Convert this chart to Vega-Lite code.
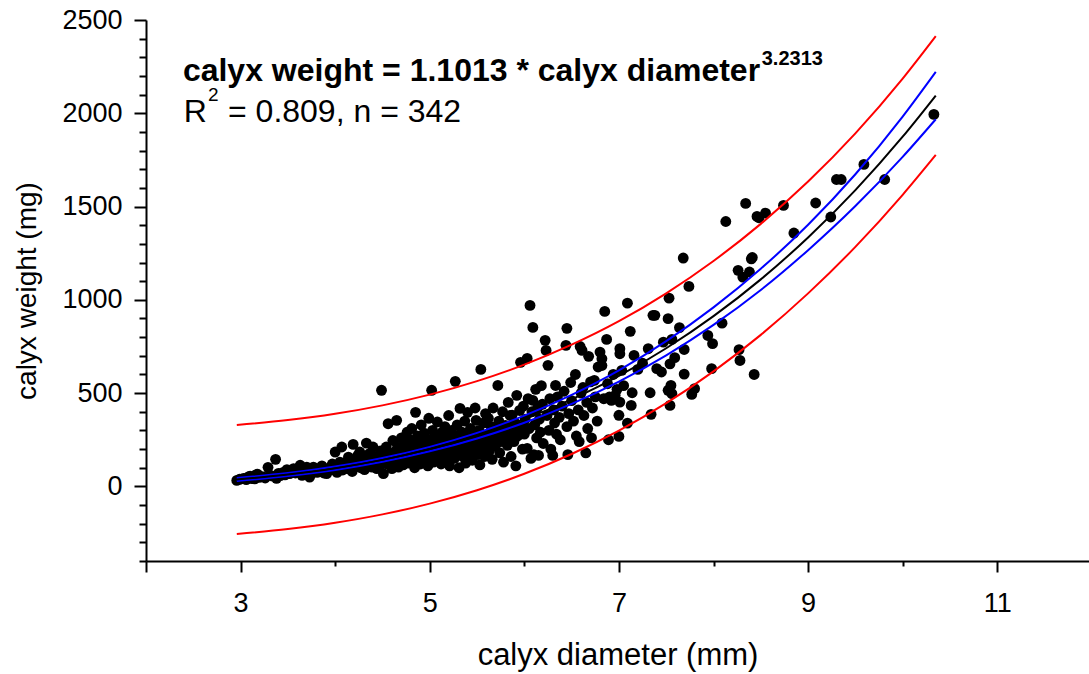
{
"$schema":"https://vega.github.io/schema/vega-lite/v6.json",
"width":943,"height":541,
"autosize":{"type":"none"},
"padding":{"left":146,"top":20,"right":0,"bottom":113},
"background":"white",
"config":{"view":{"stroke":null},"axis":{"labelFont":"Liberation Sans","titleFont":"Liberation Sans","labelColor":"black","titleColor":"black","domainColor":"black","tickColor":"black","domainWidth":2,"tickWidth":2,"grid":false,"titleFontWeight":"normal"}},
"datasets":{
"pts":[
{"d":2.96,"w":32},{"d":2.99,"w":38},{"d":3.03,"w":43},{"d":3.06,"w":36},{"d":3.08,"w":50},{"d":3.1,"w":55},{"d":3.12,"w":42},{"d":3.15,"w":40},{"d":3.16,"w":62},{"d":3.18,"w":65},{"d":3.2,"w":48},{"d":3.23,"w":52},{"d":3.26,"w":45},{"d":3.29,"w":102},{"d":3.31,"w":60},{"d":3.34,"w":55},{"d":3.37,"w":145},{"d":3.38,"w":43},{"d":3.4,"w":70},{"d":3.42,"w":58},{"d":3.45,"w":75},{"d":3.47,"w":62},{"d":3.49,"w":90},
{"d":3.52,"w":68},{"d":3.54,"w":80},{"d":3.56,"w":95},{"d":3.58,"w":72},{"d":3.6,"w":85},{"d":3.63,"w":113},{"d":3.65,"w":59},{"d":3.67,"w":78},{"d":3.7,"w":103},{"d":3.72,"w":88},{"d":3.73,"w":50},{"d":3.75,"w":70},{"d":3.77,"w":103},{"d":3.79,"w":82},{"d":3.81,"w":75},{"d":3.84,"w":95},{"d":3.86,"w":110},{"d":3.88,"w":72},{"d":3.91,"w":68},{"d":3.93,"w":85},{"d":3.95,"w":103},{"d":3.97,"w":120},{"d":3.99,"w":90},
{"d":4.0,"w":184},{"d":4.02,"w":75},{"d":4.03,"w":103},{"d":4.05,"w":130},{"d":4.07,"w":211},{"d":4.08,"w":88},{"d":4.1,"w":115},{"d":4.12,"w":130},{"d":4.13,"w":95},{"d":4.14,"w":157},{"d":4.16,"w":105},{"d":4.18,"w":80},{"d":4.19,"w":225},{"d":4.21,"w":122},{"d":4.22,"w":140},{"d":4.24,"w":166},{"d":4.26,"w":184},{"d":4.27,"w":100},{"d":4.29,"w":150},{"d":4.3,"w":122},{"d":4.31,"w":90},{"d":4.33,"w":232},{"d":4.35,"w":148},{"d":4.36,"w":175},{"d":4.38,"w":120},{"d":4.39,"w":103},{"d":4.4,"w":211},{"d":4.42,"w":160},{"d":4.44,"w":95},{"d":4.45,"w":135},{"d":4.47,"w":103},{"d":4.48,"w":190},{"d":4.49,"w":515},
{"d":4.51,"w":68},{"d":4.52,"w":150},{"d":4.54,"w":211},{"d":4.55,"w":120},{"d":4.56,"w":336},{"d":4.57,"w":175},{"d":4.58,"w":139},{"d":4.6,"w":95},{"d":4.61,"w":246},{"d":4.62,"w":160},{"d":4.63,"w":184},{"d":4.64,"w":125},{"d":4.65,"w":354},{"d":4.66,"w":210},{"d":4.67,"w":103},{"d":4.68,"w":140},{"d":4.7,"w":260},{"d":4.71,"w":180},{"d":4.72,"w":115},{"d":4.73,"w":220},{"d":4.75,"w":150},{"d":4.76,"w":290},{"d":4.77,"w":200},{"d":4.78,"w":125},{"d":4.79,"w":250},{"d":4.8,"w":170},{"d":4.81,"w":310},{"d":4.82,"w":140},{"d":4.83,"w":230},{"d":4.84,"w":100},{"d":4.85,"w":397},{"d":4.86,"w":190},{"d":4.87,"w":270},{"d":4.88,"w":155},{"d":4.89,"w":215},{"d":4.9,"w":120},{"d":4.91,"w":330},{"d":4.92,"w":240},{"d":4.93,"w":175},{"d":4.94,"w":285},{"d":4.95,"w":140},{"d":4.96,"w":205},{"d":4.97,"w":255},{"d":4.98,"w":110},{"d":4.99,"w":365},
{"d":5.0,"w":190},{"d":5.01,"w":240},{"d":5.02,"w":515},{"d":5.02,"w":160},{"d":5.03,"w":300},{"d":5.04,"w":130},{"d":5.05,"w":220},{"d":5.06,"w":270},{"d":5.07,"w":180},{"d":5.08,"w":345},{"d":5.09,"w":150},{"d":5.1,"w":250},{"d":5.11,"w":205},{"d":5.12,"w":120},{"d":5.13,"w":290},{"d":5.14,"w":230},{"d":5.15,"w":170},{"d":5.16,"w":320},{"d":5.17,"w":140},{"d":5.18,"w":260},{"d":5.19,"w":200},{"d":5.2,"w":380},{"d":5.21,"w":110},{"d":5.22,"w":240},{"d":5.23,"w":300},{"d":5.24,"w":175},{"d":5.25,"w":215},{"d":5.26,"w":150},{"d":5.27,"w":563},{"d":5.28,"w":270},{"d":5.29,"w":330},{"d":5.3,"w":190},{"d":5.31,"w":100},{"d":5.32,"w":418},{"d":5.33,"w":240},{"d":5.34,"w":290},{"d":5.35,"w":160},{"d":5.36,"w":210},{"d":5.37,"w":350},{"d":5.38,"w":125},{"d":5.4,"w":397},{"d":5.41,"w":260},{"d":5.42,"w":180},{"d":5.43,"w":310},{"d":5.44,"w":225},{"d":5.45,"w":140},{"d":5.46,"w":280},{"d":5.47,"w":200},{"d":5.48,"w":420},{"d":5.49,"w":354},
{"d":5.5,"w":245},{"d":5.51,"w":170},{"d":5.52,"w":300},{"d":5.53,"w":115},{"d":5.54,"w":627},{"d":5.55,"w":265},{"d":5.56,"w":210},{"d":5.57,"w":340},{"d":5.58,"w":160},{"d":5.59,"w":390},{"d":5.6,"w":230},{"d":5.61,"w":280},{"d":5.62,"w":365},{"d":5.63,"w":190},{"d":5.64,"w":250},{"d":5.65,"w":320},{"d":5.66,"w":145},{"d":5.67,"w":420},{"d":5.68,"w":300},{"d":5.69,"w":215},{"d":5.7,"w":270},{"d":5.72,"w":541},{"d":5.73,"w":350},{"d":5.74,"w":180},{"d":5.75,"w":240},{"d":5.76,"w":310},{"d":5.77,"w":400},{"d":5.78,"w":130},{"d":5.79,"w":285},{"d":5.8,"w":327},{"d":5.82,"w":220},{"d":5.83,"w":450},{"d":5.84,"w":260},{"d":5.85,"w":380},{"d":5.86,"w":160},{"d":5.87,"w":381},{"d":5.88,"w":300},{"d":5.89,"w":240},{"d":5.9,"w":340},{"d":5.91,"w":110},{"d":5.92,"w":488},{"d":5.93,"w":270},{"d":5.95,"w":407},{"d":5.96,"w":665},{"d":5.97,"w":320},{"d":5.98,"w":200},{"d":5.99,"w":430},
{"d":6.0,"w":280},{"d":6.01,"w":360},{"d":6.03,"w":204},{"d":6.03,"w":686},{"d":6.04,"w":470},{"d":6.05,"w":310},{"d":6.06,"w":970},{"d":6.07,"w":150},{"d":6.08,"w":400},{"d":6.09,"w":852},{"d":6.09,"w":461},{"d":6.1,"w":170},{"d":6.11,"w":330},{"d":6.12,"w":520},{"d":6.13,"w":260},{"d":6.14,"w":420},{"d":6.15,"w":166},{"d":6.16,"w":360},{"d":6.17,"w":290},{"d":6.18,"w":540},{"d":6.19,"w":440},{"d":6.2,"w":230},{"d":6.22,"w":783},{"d":6.23,"w":729},{"d":6.24,"w":380},{"d":6.25,"w":649},{"d":6.26,"w":300},{"d":6.27,"w":470},{"d":6.28,"w":200},{"d":6.3,"w":166},{"d":6.31,"w":410},{"d":6.32,"w":340},{"d":6.33,"w":541},{"d":6.34,"w":280},{"d":6.35,"w":480},{"d":6.37,"w":370},{"d":6.38,"w":250},{"d":6.4,"w":430},{"d":6.42,"w":510},{"d":6.44,"w":756},{"d":6.45,"w":847},{"d":6.45,"w":320},{"d":6.46,"w":170},{"d":6.47,"w":390},{"d":6.49,"w":557},
{"d":6.5,"w":460},{"d":6.52,"w":350},{"d":6.54,"w":600},{"d":6.55,"w":270},{"d":6.57,"w":410},{"d":6.58,"w":240},{"d":6.59,"w":750},{"d":6.6,"w":500},{"d":6.61,"w":729},{"d":6.62,"w":530},{"d":6.63,"w":380},{"d":6.65,"w":180},{"d":6.66,"w":450},{"d":6.67,"w":310},{"d":6.68,"w":697},{"d":6.7,"w":560},{"d":6.71,"w":260},{"d":6.72,"w":420},{"d":6.74,"w":568},{"d":6.75,"w":480},{"d":6.77,"w":350},{"d":6.78,"w":640},{"d":6.8,"w":720},{"d":6.82,"w":684},{"d":6.82,"w":648},{"d":6.84,"w":470},{"d":6.85,"w":938},{"d":6.87,"w":788},{"d":6.88,"w":550},{"d":6.89,"w":250},{"d":6.9,"w":479},{"d":6.92,"w":461},{"d":6.94,"w":600},{"d":6.96,"w":488},{"d":6.98,"w":520},
{"d":7.0,"w":268},{"d":7.0,"w":381},{"d":7.01,"w":738},{"d":7.01,"w":711},{"d":7.01,"w":452},{"d":7.03,"w":622},{"d":7.05,"w":540},{"d":7.09,"w":982},{"d":7.09,"w":339},{"d":7.12,"w":831},{"d":7.13,"w":434},{"d":7.14,"w":502},{"d":7.16,"w":702},{"d":7.2,"w":627},{"d":7.25,"w":660},{"d":7.31,"w":738},{"d":7.33,"w":502},{"d":7.34,"w":386},{"d":7.36,"w":917},{"d":7.38,"w":917},{"d":7.4,"w":631},{"d":7.45,"w":613},{"d":7.47,"w":773},
{"d":7.52,"w":899},{"d":7.52,"w":515},{"d":7.53,"w":1009},{"d":7.54,"w":657},{"d":7.54,"w":434},{"d":7.55,"w":541},{"d":7.56,"w":788},{"d":7.56,"w":497},{"d":7.59,"w":690},{"d":7.64,"w":851},{"d":7.68,"w":1224},{"d":7.69,"w":734},{"d":7.69,"w":602},{"d":7.74,"w":1072},{"d":7.77,"w":493},{"d":7.8,"w":524},{"d":7.94,"w":809},{"d":7.98,"w":631},{"d":7.99,"w":765},
{"d":8.09,"w":875},{"d":8.13,"w":1420},{"d":8.27,"w":733},{"d":8.28,"w":675},{"d":8.26,"w":1158},{"d":8.31,"w":1122},{"d":8.34,"w":1517},{"d":8.38,"w":1149},{"d":8.4,"w":1220},{"d":8.41,"w":1227},{"d":8.43,"w":600},{"d":8.46,"w":1447},{"d":8.48,"w":1440},
{"d":8.55,"w":1465},{"d":8.74,"w":1506},{"d":8.85,"w":1358},{"d":9.08,"w":1519},{"d":9.24,"w":1444},{"d":9.3,"w":1645},{"d":9.35,"w":1645},{"d":9.59,"w":1726},{"d":9.81,"w":1645},{"d":10.33,"w":1994}
],
"fit":[
{"d":2.96,"fit":36.7,"clo":28.7,"chi":44.7,"plo":-255.4,"phi":328.8},
{"d":3.5,"fit":63.1,"clo":55.1,"chi":71.1,"plo":-229.0,"phi":355.2},
{"d":4,"fit":97.1,"clo":88.1,"chi":106.1,"plo":-195.0,"phi":389.2},
{"d":4.5,"fit":142.1,"clo":132.1,"chi":152.1,"plo":-150.1,"phi":434.3},
{"d":5,"fit":199.8,"clo":187.8,"chi":211.8,"plo":-92.4,"phi":492.0},
{"d":5.5,"fit":271.8,"clo":256.8,"chi":286.8,"plo":-20.6,"phi":564.2},
{"d":6,"fit":360.0,"clo":341.0,"chi":379.0,"plo":67.4,"phi":652.6},
{"d":6.5,"fit":466.4,"clo":442.4,"chi":490.4,"plo":173.4,"phi":759.4},
{"d":7,"fit":592.1,"clo":562.1,"chi":622.1,"plo":298.6,"phi":885.6},
{"d":7.5,"fit":740.4,"clo":702.4,"chi":778.4,"plo":445.9,"phi":1034.9},
{"d":8,"fit":912.5,"clo":865.5,"chi":959.5,"plo":616.7,"phi":1208.3},
{"d":8.5,"fit":1109.6,"clo":1052.6,"chi":1166.6,"plo":812.1,"phi":1407.1},
{"d":9,"fit":1334.3,"clo":1266.3,"chi":1402.3,"plo":1034.5,"phi":1634.1},
{"d":9.5,"fit":1588.0,"clo":1503.0,"chi":1673.0,"plo":1283.9,"phi":1892.1},
{"d":10,"fit":1874.4,"clo":1766.4,"chi":1982.4,"plo":1563.0,"phi":2185.8},
{"d":10.35,"fit":2095.0,"clo":1968.0,"chi":2222.0,"plo":1776.6,"phi":2413.4}
],
"ann":[
{"d":2.39,"w":2173,"t":"calyx weight = 1.1013 * calyx diameter","k":"main"},
{"d":8.51,"w":2259,"t":"3.2313","k":"supb"},
{"d":2.4,"w":1953,"t":"R","k":"reg"},
{"d":2.655,"w":2068,"t":"2","k":"supr"},
{"d":2.867,"w":1953,"t":"= 0.809, n = 342","k":"reg"}
]
},
"encoding":{
  "x":{"field":"d","type":"quantitative","title":"calyx diameter (mm)","scale":{"domain":[2,11.97],"nice":false,"zero":false},
   "axis":{"values":[2,3,4,5,6,7,8,9,10,11],"labelExpr":"datum.value % 2 === 1 ? datum.label : ''","tickSize":{"condition":{"test":"datum.value % 2 === 1 || datum.value === 2","value":11},"value":5},"labelFontSize":27,"labelPadding":18,"titleFontSize":31,"titlePadding":24,"labelFlush":false,"labelOverlap":false}},
  "y":{"field":"w","type":"quantitative","title":"calyx weight (mg)","scale":{"domain":[-400,2500],"nice":false,"zero":false},
   "axis":{"values":[-400,-300,-200,-100,0,100,200,300,400,500,600,700,800,900,1000,1100,1200,1300,1400,1500,1600,1700,1800,1900,2000,2100,2200,2300,2400,2500],"format":"d","labelExpr":"datum.value % 500 === 0 ? datum.label : ''","tickSize":{"condition":{"test":"datum.value % 500 === 0","value":12},"value":7},"labelFontSize":27,"labelPadding":12,"titleFontSize":28,"titlePadding":20,"labelFlush":false,"labelOverlap":false}}
},
"layer":[
{"data":{"name":"pts"},
 "mark":{"type":"circle","size":118,"color":"black","opacity":1}},
{"data":{"name":"fit"},
 "transform":[{"fold":["plo","phi","clo","chi","fit"],"as":["k","w"]}],
 "mark":{"type":"line","interpolate":"monotone","strokeWidth":2},
 "encoding":{
  "detail":{"field":"k"},
  "color":{"field":"k","type":"nominal","legend":null,"scale":{"domain":["plo","phi","clo","chi","fit"],"range":["#ff0000","#ff0000","#0000ff","#0000ff","#000000"]}}
 }},
{"data":{"name":"ann"},"transform":[{"filter":"datum.k === 'main'"}],
 "mark":{"type":"text","align":"left","baseline":"alphabetic","font":"Liberation Sans","fontWeight":"bold","fontSize":32,"color":"black"},
 "encoding":{"text":{"field":"t"}}},
{"data":{"name":"ann"},"transform":[{"filter":"datum.k === 'supb'"}],
 "mark":{"type":"text","align":"left","baseline":"alphabetic","font":"Liberation Sans","fontWeight":"bold","fontSize":20,"color":"black"},
 "encoding":{"text":{"field":"t"}}},
{"data":{"name":"ann"},"transform":[{"filter":"datum.k === 'reg'"}],
 "mark":{"type":"text","align":"left","baseline":"alphabetic","font":"Liberation Sans","fontSize":32,"color":"black"},
 "encoding":{"text":{"field":"t"}}},
{"data":{"name":"ann"},"transform":[{"filter":"datum.k === 'supr'"}],
 "mark":{"type":"text","align":"left","baseline":"alphabetic","font":"Liberation Sans","fontSize":19,"color":"black"},
 "encoding":{"text":{"field":"t"}}}
]
}
